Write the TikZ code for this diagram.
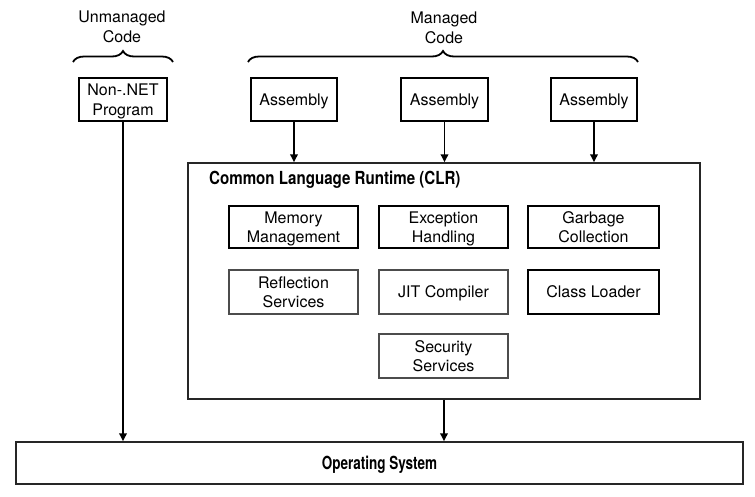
\documentclass[tikz,border=0pt]{standalone}
\usepackage{fontspec}
\usepackage{graphicx}
\setmainfont{TeX Gyre Heros}
\usetikzlibrary{arrows.meta,decorations.pathreplacing}
\begin{document}
\begin{tikzpicture}[x=1pt,y=-1pt,
  every node/.style={font=\fontsize{16}{19.5}\selectfont},
  thickbox/.style={draw=black,line width=2pt,inner sep=0pt,align=center,text depth=0pt},
  thinbox/.style={draw=black!70,line width=1.2pt,inner sep=0pt,align=center,text depth=0pt},
  lbl/.style={align=center,inner sep=0pt},
  conn/.style={line width=1.8pt,-{Triangle[length=8pt,width=7.5pt]}},
  bracestyle/.style={line width=1.8pt,decorate,decoration={brace,amplitude=11pt}}]
\useasboundingbox (0,0) rectangle (755,496);
% labels
\node[lbl] (ul) at (122,27) {Unmanaged\\Code};
\node[lbl] (ml) at (444,28) {Managed\\Code};
% braces
\coordinate (ub1) at (73,62);
\coordinate (ub2) at (173,62);
\coordinate (mb1) at (248,62);
\coordinate (mb2) at (638,62);
\draw[bracestyle] (ub1) -- (ub2);
\draw[bracestyle] (mb1) -- (mb2);
% top boxes
\node[thickbox,minimum width=88pt,minimum height=43pt] (np) at (123,99.5) {Non-.NET\\Program};
\node[thickbox,minimum width=86pt,minimum height=43pt] (a1) at (294,99.5) {Assembly};
\node[thickbox,minimum width=87pt,minimum height=43pt] (a2) at (444.5,99.5) {Assembly};
\node[thickbox,minimum width=86pt,minimum height=43pt] (a3) at (594,99.5) {Assembly};
% CLR
\node[draw=black!85,line width=1.5pt,minimum width=512pt,minimum height=236pt,inner sep=0pt] (clr) at (444,281) {};
\node[anchor=west,inner sep=0pt] (title) at (209,180) {\scalebox{0.84}[1]{\bfseries\fontsize{18}{20}\selectfont Common Language Runtime (CLR)}};
\node[thickbox,minimum width=129pt,minimum height=42pt] (mm) at (293.5,227) {Memory\\Management};
\node[thickbox,minimum width=129pt,minimum height=42pt] (eh) at (443.5,227) {Exception\\Handling};
\node[thickbox,minimum width=131pt,minimum height=42pt] (gc) at (593.5,227) {Garbage\\Collection};
\node[thinbox,minimum width=129pt,minimum height=44pt] (rs) at (293.5,292) {Reflection\\Services};
\node[thinbox,minimum width=129pt,minimum height=44pt] (jit) at (443.5,292) {JIT Compiler};
\node[thickbox,minimum width=131pt,minimum height=44pt] (cl) at (593.5,292) {Class Loader};
\node[thinbox,minimum width=129pt,minimum height=44pt] (ss) at (443.5,356) {Security\\Services};
% OS
\node[draw=black!85,line width=1.5pt,minimum width=727pt,minimum height=42pt,inner sep=0pt,text depth=0pt] (os) at (379.5,463) {\scalebox{0.75}[1]{\bfseries\fontsize{18}{20}\selectfont Operating System}};
% connectors
\draw[conn] (a1.south) -- (a1.south |- clr.north);
\draw[conn] (a2.south) -- (a2.south |- clr.north);
\draw[conn] (a3.south) -- (a3.south |- clr.north);
\draw[conn] (np.south) -- (np.south |- os.north);
\draw[conn] (clr.south) -- (clr.south |- os.north);
\end{tikzpicture}
\end{document}
